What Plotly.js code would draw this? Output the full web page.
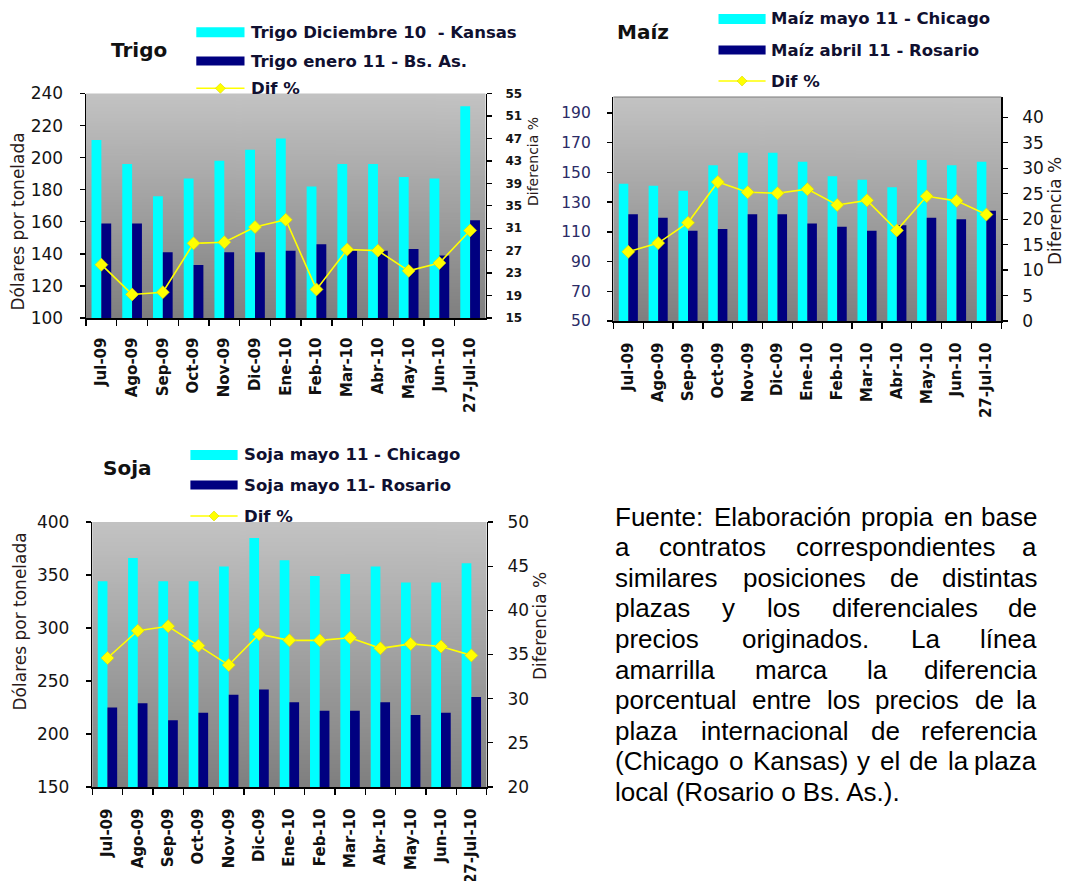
<!DOCTYPE html>
<html>
<head>
<meta charset="utf-8">
<script src="https://cdn.plot.ly/plotly-3.0.1.min.js"></script>
<style>
html,body{margin:0;padding:0;background:#ffffff;}
#chart{width:1068px;height:881px;}
</style>
</head>
<body>
<div id="chart"></div>
<script>
// ---------------- DATA ----------------
const categories = ["Jul-09","Ago-09","Sep-09","Oct-09","Nov-09","Dic-09","Ene-10","Feb-10","Mar-10","Abr-10","May-10","Jun-10","27-Jul-10"];

const trigoKansas = [211,196,176,187,198,205,212,182,196,196,188,187,232];
const trigoBsAs   = [159,159,141,133,141,141,142,146,142,142,143,139,161];
const trigoDif    = [24.5,19.2,19.6,28.3,28.5,31.2,32.5,20.1,27.2,27.0,23.4,24.8,30.6];

const maizChicago = [142.4,141.1,137.7,154.8,163.3,163.3,157.2,147.4,145.1,140.0,158.3,154.8,157.2];
const maizRosario = [121.8,119.5,110.8,111.9,121.8,121.8,115.7,113.5,110.8,114.4,119.5,118.4,124.2];
const maizDif     = [13.6,15.3,19.3,27.3,25.3,25.1,25.9,22.8,23.7,17.8,24.5,23.6,20.9];

const sojaChicago = [344,366,344,344,358,385,364,349,351,358,343,343,361];
const sojaRosario = [225,229,213,220,237,242,230,222,222,230,218,220,235];
const sojaDif     = [34.6,37.7,38.2,36.0,33.8,37.3,36.6,36.6,36.9,35.7,36.2,35.9,34.9];

const trigoNames = ["Trigo Diciembre 10  - Kansas","Trigo enero 11 - Bs. As.","Dif %"];
const maizNames  = ["Maíz mayo 11 - Chicago","Maíz abril 11 - Rosario","Dif %"];
const sojaNames  = ["Soja mayo 11 - Chicago","Soja mayo 11- Rosario","Dif %"];

const chartTitles = ["Trigo","Maíz","Soja"];
const leftTitle = "Dólares por tonelada";
const rightTitle = "Diferencia %";

const noteLines = [
  "Fuente: Elaboración propia en base",
  "a contratos correspondientes a",
  "similares posiciones de distintas",
  "plazas y los diferenciales de",
  "precios originados. La línea",
  "amarrilla marca la diferencia",
  "porcentual entre los precios de la",
  "plaza internacional de referencia",
  "(Chicago o Kansas) y el de la plaza",
  "local (Rosario o Bs. As.)."
];

// ---------------- LAYOUT HELPERS ----------------
const W = 1068, H = 881;
const px = v => v / W;
const py = v => 1 - v / H;
const FONT = "DejaVu Sans";

const plots = [
  {l:86,    r:485.5,  t:93.5, b:318},
  {l:613.4, r:1001.3, t:97,   b:321},
  {l:92.3,  r:486.5,  t:522,  b:787}
];

const CYAN = "#00FFFF", NAVY = "#000080", YEL = "#FFFF00";

function series(idx, cyan, dark, dif, names){
  const xa = idx === 0 ? "x" : "x" + (idx + 1);
  const ya = idx === 0 ? "y" : "y" + (2*idx + 1);
  const ya2 = "y" + (2*idx + 2);
  return [
    {type:"bar", x:categories, y:cyan, xaxis:xa, yaxis:ya, name:names[0],
     marker:{color:CYAN, line:{width:0}}, showlegend:false, hoverinfo:"skip"},
    {type:"bar", x:categories, y:dark, xaxis:xa, yaxis:ya, name:names[1],
     marker:{color:NAVY, line:{width:0}}, showlegend:false, hoverinfo:"skip"},
    {type:"scatter", mode:"lines+markers", x:categories, y:dif, xaxis:xa, yaxis:ya2, name:names[2],
     line:{color:YEL, width:1.6},
     marker:{symbol:"diamond", size:10, color:YEL, line:{color:"#D8D800", width:0.6}},
     showlegend:false, hoverinfo:"skip", cliponaxis:false}
  ];
}

const data = [].concat(
  series(0, trigoKansas, trigoBsAs, trigoDif, trigoNames),
  series(1, maizChicago, maizRosario, maizDif, maizNames),
  series(2, sojaChicago, sojaRosario, sojaDif, sojaNames)
);

function xAxisCfg(p, anchor, standoff){
  return {domain:[px(p.l), px(p.r)], anchor:anchor, type:"category", range:[-0.5,12.5],
    tickson:"boundaries", ticks:"outside", ticklen:6, tickwidth:1.3, tickcolor:"#000",
    showline:true, linecolor:"#000", linewidth:1.5, tickangle:-90,
    tickfont:{family:FONT, size:15, color:"#111", weight:"bold"},
    ticklabelstandoff:standoff, showgrid:false, zeroline:false, fixedrange:true};
}
function yAxisCfg(p, anchor, range, dtick, side, font, standoff, overlay){
  const c = {domain:[py(p.b), py(p.t)], anchor:anchor, range:range, tick0:range[0], dtick:dtick,
    side:side, ticks:"outside", ticklen:5, tickwidth:1.3, tickcolor:"#000",
    showline:true, linecolor:"#000", linewidth:1.5, tickfont:font,
    ticklabelstandoff:standoff, showgrid:false, zeroline:false, fixedrange:true};
  if (overlay) c.overlaying = overlay;
  return c;
}
function innerTicks(base, anchor, range, dtick, side){
  return {overlaying:base, anchor:anchor, side:side, range:range, tick0:range[0], dtick:dtick,
    ticks:"inside", ticklen:5, tickwidth:1.3, tickcolor:"#000", showticklabels:false,
    showline:false, showgrid:false, zeroline:false, fixedrange:true};
}

const rTrigoL = [100,240], rTrigoR = [15,55];
const rMaizL = [50,200.75], rMaizR = [0,44];
const rSojaL = [150,400], rSojaR = [20,50];

const fReg = (s, c) => ({family:FONT, size:s, color:c || "#1a1a1a"});
const fBold = (s, c) => ({family:FONT, size:s, color:c || "#1a1a1a", weight:"bold"});

// gradient background for plot areas
const cv = document.createElement("canvas");
cv.width = 4; cv.height = 256;
const g = cv.getContext("2d");
const grd = g.createLinearGradient(0,0,0,256);
grd.addColorStop(0, "#c3c3c3");
grd.addColorStop(1, "#7f7f7f");
g.fillStyle = grd; g.fillRect(0,0,4,256);
const bgURL = cv.toDataURL();

const images = plots.map(p => ({source:bgURL, xref:"paper", yref:"paper",
  x:px(p.l), y:py(p.t), sizex:(p.r-p.l)/W, sizey:(p.b-p.t)/H,
  xanchor:"left", yanchor:"top", sizing:"stretch", layer:"below"}));

// ---------------- ANNOTATIONS & SHAPES ----------------
const annotations = [];
const shapes = [];

function ann(text, x, y, font, opts){
  annotations.push(Object.assign({text:text, x:px(x), y:py(y), xref:"paper", yref:"paper",
    showarrow:false, font:font, xanchor:"center", yanchor:"middle"}, opts || {}));
}

// chart titles
ann(chartTitles[0], 138.5, 50, fBold(20, "#111"));
ann(chartTitles[1], 642.7, 32, fBold(20, "#111"));
ann(chartTitles[2], 127.4, 468, fBold(20, "#111"));

// axis titles
ann(leftTitle, 18, 221.5, fReg(17, "#2a1a1a"), {textangle:-90});
ann(rightTitle, 533, 162, fReg(14, "#2a1a1a"), {textangle:-90});
ann(rightTitle, 1055, 211, fReg(17, "#2a1a1a"), {textangle:-90});
ann(leftTitle, 19, 621.5, fReg(17, "#2a1a1a"), {textangle:-90});
ann(rightTitle, 540, 626, fReg(17, "#2a1a1a"), {textangle:-90});

// manual legends
const legends = [
  {names:trigoNames, x0:196.3, x1:244.5, tx:248.5, rows:[32.3,61,88.3]},
  {names:maizNames,  x0:718.5, x1:765.6, tx:768.8, rows:[19,50,81]},
  {names:sojaNames,  x0:190.4, x1:237.6, tx:242,   rows:[455,485,516]}
];
legends.forEach(L => {
  shapes.push({type:"rect", xref:"paper", yref:"paper", x0:px(L.x0), x1:px(L.x1),
    y0:py(L.rows[0]+5), y1:py(L.rows[0]-5), fillcolor:CYAN, line:{width:0}});
  shapes.push({type:"rect", xref:"paper", yref:"paper", x0:px(L.x0), x1:px(L.x1),
    y0:py(L.rows[1]+4.5), y1:py(L.rows[1]-4.5), fillcolor:NAVY, line:{width:0}});
  shapes.push({type:"line", xref:"paper", yref:"paper", x0:px(L.x0), x1:px(L.x1),
    y0:py(L.rows[2]), y1:py(L.rows[2]), line:{color:YEL, width:1.6}});
  const cx = (L.x0 + L.x1)/2, cy = L.rows[2], s = 5;
  shapes.push({type:"path", xref:"paper", yref:"paper",
    path:`M${px(cx)},${py(cy-s)} L${px(cx+s)},${py(cy)} L${px(cx)},${py(cy+s)} L${px(cx-s)},${py(cy)} Z`,
    fillcolor:YEL, line:{color:"#D8D800", width:0.6}});
  L.names.forEach((n, i) => ann(n, L.tx, L.rows[i], fBold(16.5, "#101030"), {xanchor:"left"}));
});

// thin top border on the Maíz plot area
shapes.push({type:"line", xref:"paper", yref:"paper", x0:px(plots[1].l), x1:px(plots[1].r),
  y0:py(plots[1].t), y1:py(plots[1].t), line:{color:"#7a7a7a", width:1.2}});

// justified note text
const NOTE_FONT = 26, NOTE_FAMILY = "Liberation Sans";
const noteL = 614.3, noteR = 1038.3, noteTop = 516.7, notePitch = 30.56;
const mctx = document.createElement("canvas").getContext("2d");
mctx.font = NOTE_FONT + "px '" + NOTE_FAMILY + "'";
const noteFont = {family:NOTE_FAMILY, size:NOTE_FONT, color:"#000"};
noteLines.forEach((line, k) => {
  const y = noteTop + k*notePitch;
  const last = k === noteLines.length - 1;
  if (last) { ann(line, noteL - 1, y, noteFont, {xanchor:"left"}); return; }
  const words = line.split(" ");
  const widths = words.map(w => mctx.measureText(w).width);
  const total = widths.reduce((a,b)=>a+b, 0);
  const gap = (noteR - noteL - total) / (words.length - 1);
  let x = noteL;
  words.forEach((w, i) => {
    if (i === words.length - 1) ann(w, noteR + 1, y, noteFont, {xanchor:"right"});
    else ann(w, x - 1, y, noteFont, {xanchor:"left"});
    x += widths[i] + gap;
  });
});

// ---------------- LAYOUT ----------------
const layout = {
  width:W, height:H, margin:{l:0,r:0,t:0,b:0},
  paper_bgcolor:"#ffffff", plot_bgcolor:"rgba(0,0,0,0)",
  showlegend:false, barmode:"group", bargap:0.36, bargroupgap:0,
  font:{family:FONT, color:"#1a1a1a"},
  xaxis:  xAxisCfg(plots[0], "y", 12),
  xaxis2: xAxisCfg(plots[1], "y3", 14),
  xaxis3: xAxisCfg(plots[2], "y5", 14),
  yaxis:  yAxisCfg(plots[0], "x", rTrigoL, 20, "left", fReg(17, "#141414"), 13),
  yaxis2: yAxisCfg(plots[0], "x", rTrigoR, 4, "right", fBold(12, "#141414"), 11, "y"),
  yaxis3: yAxisCfg(plots[1], "x2", rMaizL, 20, "left", fReg(15.5, "#2b2b66"), 13),
  yaxis4: yAxisCfg(plots[1], "x2", rMaizR, 5, "right", fReg(17, "#141414"), 11, "y3"),
  yaxis5: yAxisCfg(plots[2], "x3", rSojaL, 50, "left", fReg(17, "#141414"), 13),
  yaxis6: yAxisCfg(plots[2], "x3", rSojaR, 5, "right", fReg(17, "#141414"), 11, "y5"),
  yaxis7:  innerTicks("y",  "x",  rTrigoL, 20, "left"),
  yaxis8:  innerTicks("y",  "x",  rTrigoR, 4,  "right"),
  yaxis9:  innerTicks("y3", "x2", rMaizL, 20,  "left"),
  yaxis10: innerTicks("y3", "x2", rMaizR, 5,   "right"),
  yaxis11: innerTicks("y5", "x3", rSojaL, 50,  "left"),
  yaxis12: innerTicks("y5", "x3", rSojaR, 5,   "right"),
  images:images, shapes:shapes, annotations:annotations
};

Plotly.newPlot("chart", data, layout, {staticPlot:true, displayModeBar:false});
</script>
</body>
</html>
